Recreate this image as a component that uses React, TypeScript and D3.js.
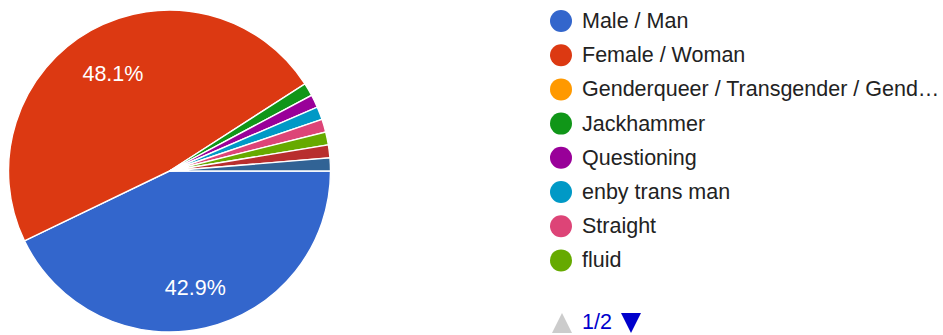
import React from "react";
import * as d3 from "d3";

const categories = [
  "Male / Man",
  "Female / Woman",
  "Genderqueer / Transgender / Gend…",
  "Jackhammer",
  "Questioning",
  "enby trans man",
  "Straight",
  "fluid",
  "page 2 item 1",
  "page 2 item 2",
];
const counts = [33, 37, 0, 1, 1, 1, 1, 1, 1, 1];
const colors = [
  "#3366cc", "#dc3912", "#ff9900", "#109618", "#990099",
  "#0099c6", "#dd4477", "#66aa00", "#b82e2e", "#316395",
];
const legendVisible = 8;
const pageLabel = "1/2";

const W = 943, H = 335;
const cx = 169.5, cy = 171, R = 161;
const FONT = "Arial, 'Liberation Sans', sans-serif";

export default function App() {
  const total = d3.sum(counts);
  const pie = d3
    .pie<number>()
    .sort(null)
    .value((d) => d)
    .startAngle(Math.PI / 2)
    .endAngle(Math.PI / 2 + 2 * Math.PI);
  const arcs = pie(counts);
  const arc = d3.arc<d3.PieArcDatum<number>>().innerRadius(0).outerRadius(R);
  const labelArc = d3
    .arc<d3.PieArcDatum<number>>()
    .innerRadius(R * 0.72)
    .outerRadius(R * 0.72);

  const rowY = d3.scaleLinear().domain([0, 1]).range([21, 55.2]);

  return (
    <svg
      width={W}
      height={H}
      style={{ position: "absolute", left: 0, top: 0, background: "#fff" }}
      fontFamily={FONT}
    >
      <g transform={`translate(${cx},${cy})`}>
        {arcs.map((a, i) =>
          a.value > 0 ? (
            <path
              key={i}
              d={arc(a) || ""}
              fill={colors[i]}
              stroke="#fff"
              strokeWidth={1.4}
            />
          ) : null
        )}
        {arcs.map((a, i) => {
          const pct = (a.value / total) * 100;
          if (pct < 5) return null;
          const [x, y] = labelArc.centroid(a);
          return (
            <text
              key={"l" + i}
              x={x}
              y={y + 4}
              fill="#fff"
              fontSize={21.5}
              textAnchor="middle"
              dominantBaseline="central"
            >
              {pct.toFixed(1) + "%"}
            </text>
          );
        })}
      </g>
      <g>
        {categories.slice(0, legendVisible).map((c, i) => (
          <g key={c} transform={`translate(0,${rowY(i)})`}>
            <circle cx={561} cy={0} r={11} fill={colors[i]} />
            <text
              x={582}
              y={0}
              fontSize={21.5}
              fill="#222"
              dominantBaseline="central"
            >
              {c}
            </text>
          </g>
        ))}
      </g>
      <g>
        <path d="M552,333 L562,313 L572,333 Z" fill="#cccccc" />
        <text x={582} y={329} fontSize={21.5} fill="#0000cc">
          {pageLabel}
        </text>
        <path d="M621,313 L641,313 L631,333 Z" fill="#0000cc" />
      </g>
    </svg>
  );
}
